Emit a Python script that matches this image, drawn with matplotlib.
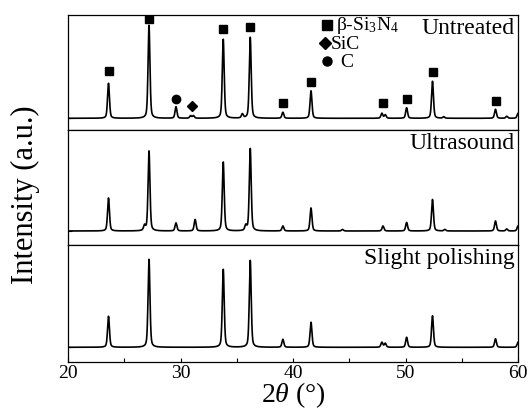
import numpy as np
import matplotlib
matplotlib.use('Agg')
import matplotlib.pyplot as plt

plt.rcParams['font.family'] = ['Liberation Serif', 'DejaVu Serif']
plt.rcParams['mathtext.fontset'] = 'custom'
plt.rcParams['mathtext.rm'] = 'Liberation Serif'
plt.rcParams['mathtext.it'] = 'Liberation Serif:italic'

# peak positions (2theta) and heights
untreated_pos = [23.6, 27.2, 29.6, 30.9, 31.15, 33.8, 35.5, 36.2, 39.1, 41.6, 47.9, 48.2, 50.1, 52.4, 53.4, 58.0, 59.0, 60.0]
untreated_h = [35, 93, 11.5, 2.5, 2.5, 79, 4, 81, 6, 27.5, 5, 3.5, 10.5, 37, 1.5, 9, 2, 5]

ultra_pos = [23.6, 26.8, 27.2, 29.6, 31.3, 33.8, 35.8, 36.2, 39.1, 41.6, 44.4, 48.0, 50.1, 52.4, 53.5, 58.0, 59.0, 60.0]
ultra_h = [33, 5, 80, 8, 11.5, 69, 5, 82.5, 5, 23, 1.5, 5, 8.5, 31.5, 1.5, 10, 2, 5]

polish_pos = [23.6, 27.2, 33.8, 36.2, 39.1, 41.6, 47.9, 48.2, 50.1, 52.4, 58.0, 60.0]
polish_h = [31, 88, 78, 87, 8, 25, 5, 4, 10, 31.5, 8.5, 5]

# phase markers in the top panel: (2theta, height)
si3n4_x = [23.6, 27.2, 33.8, 36.2, 39.1, 41.6, 48.0, 50.1, 52.4, 58.0]
si3n4_y = [47, 99, 89.5, 91.5, 15, 36.5, 15, 19.5, 46.5, 17.5]
c_x = [29.6]
c_y = [19.5]
sic_x = [31.0]
sic_y = [12.5]

tt = np.linspace(20, 60, 4000)


def pattern(pos, h, w=0.2):
    y = np.zeros_like(tt)
    for p, a in zip(pos, h):
        g = np.exp(-4 * np.log(2) * ((tt - p) / w) ** 2)
        l = 1 / (1 + 4 * ((tt - p) / w) ** 2)
        y += a * (0.6 * g + 0.4 * l)
    return y


fig = plt.figure(figsize=(5.28, 4.11), dpi=100)
W, H = 528, 411
left, right = 68, 518
panels = [(15, 130, -11.7), (130, 245, -14), (245, 362, -14.7)]
series = [(untreated_pos, untreated_h, 'Untreated'),
          (ultra_pos, ultra_h, 'Ultrasound'),
          (polish_pos, polish_h, 'Slight polishing')]
axes = []
for (top, bot, y0), (pos, h, name) in zip(panels, series):
    ax = fig.add_axes([left / W, 1 - bot / H, (right - left) / W, (bot - top) / H])
    ax.plot(tt, pattern(pos, h), color='black', lw=1.2)
    ax.set_xlim(20, 60)
    ax.set_ylim(y0, y0 + (bot - top))
    ax.set_yticks([0])
    ax.set_yticklabels([])
    ax.tick_params(axis='y', direction='in', length=3, width=0.8)
    ax.text(0.993, 1 - 3 / (bot - top), name, transform=ax.transAxes,
            ha='right', va='top', fontsize=17)
    for s in ax.spines.values():
        s.set_linewidth(0.9)
    axes.append(ax)

for ax in axes[:2]:
    ax.set_xticks([])

axb = axes[2]
axb.set_xticks([20, 30, 40, 50, 60])
axb.set_xticks([25, 35, 45, 55], minor=True)
axb.tick_params(axis='x', which='both', direction='in', length=3, width=0.8, labelsize=14, pad=2)
axb.set_xlabel(r'2$\it{\theta}$ (°)', fontsize=20, labelpad=-1)

fig.text(25 / W, 1 - 195 / H, 'Intensity (a.u.)', rotation=90, ha='center', va='center', fontsize=22)

axt = axes[0]
axt.plot(si3n4_x, si3n4_y, 's', color='black', ms=6)
axt.plot(c_x, c_y, 'o', color='black', ms=6)
axt.plot(sic_x, sic_y, 'D', color='black', ms=5.5)

# legend
axt.plot([0.575], [0.913], 's', color='black', ms=6.5, transform=axt.transAxes)
axt.plot([0.571], [0.759], 'D', color='black', ms=6, transform=axt.transAxes)
axt.plot([0.575], [0.603], 'o', color='black', ms=6.5, transform=axt.transAxes)
axt.text(0.595, 0.913, r'β-Si$_{\rm 3}$N$_{\rm 4}$', transform=axt.transAxes, ha='left', va='center', fontsize=14)
axt.text(0.585, 0.745, 'SiC', transform=axt.transAxes, ha='left', va='center', fontsize=14)
axt.text(0.605, 0.59, 'C', transform=axt.transAxes, ha='left', va='center', fontsize=14)

fig.savefig('out.png', dpi=100)
